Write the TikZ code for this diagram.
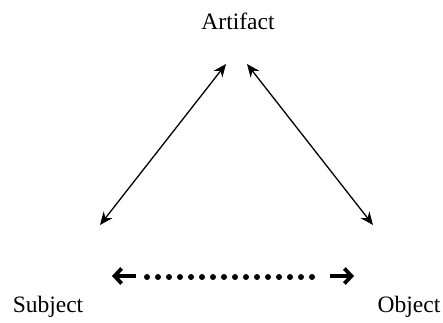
\documentclass[tikz,border=0pt]{standalone}
\usepackage{fontspec}
\setmainfont{Liberation Serif}
\usetikzlibrary{arrows.meta}
\tikzset{
  lbl/.style={font=\fontsize{23.5}{26}\selectfont, inner sep=0pt},
  thinarrow/.style={line width=1.3pt, {Stealth[length=13pt,width=11pt]}-{Stealth[length=13pt,width=11pt]}},
  dotline/.style={line width=6pt, line cap=round, dash pattern=on 0pt off 11pt},
  bararrow/.style={line width=3.8pt, -{Straight Barb[length=7pt,width=15pt,line width=3.8pt,line cap=butt]}}
}
\begin{document}
\begin{tikzpicture}[x=1pt,y=-1pt]
\useasboundingbox (0,0) rectangle (443,322);
\node[lbl] (art) at (238,21) {Artifact};
\node[lbl] (sub) at (48,307) {Subject};
\node[lbl] (obj) at (409,307) {Object};
\coordinate (a1) at (226,64);
\coordinate (a2) at (247,64);
\coordinate (s1) at (100,225);
\coordinate (o1) at (373,225);
\coordinate (l1) at (112,276);
\coordinate (l2) at (136,276);
\coordinate (r1) at (330,276);
\coordinate (r2) at (354,276);
\coordinate (p1) at (147,277);
\coordinate (p2) at (323,277);
\draw[thinarrow] (s1) -- (a1);
\draw[thinarrow] (a2) -- (o1);
\draw[dotline] (p1) -- (p2);
\draw[bararrow] (l2) -- (l1);
\draw[bararrow] (r1) -- (r2);
\end{tikzpicture}
\end{document}
